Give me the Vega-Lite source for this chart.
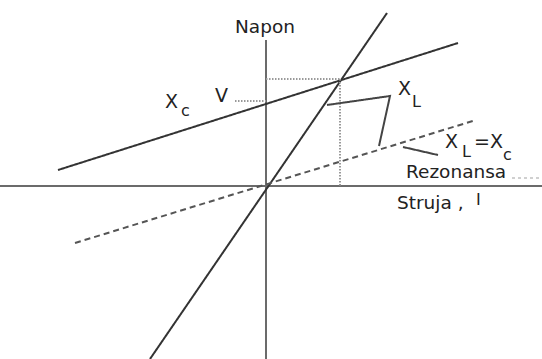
{
  "$schema": "https://vega.github.io/schema/vega-lite/v6.json",
  "width": 542,
  "height": 359,
  "padding": 0,
  "autosize": {"type": "none"},
  "background": "white",
  "config": {"view": {"stroke": null}},
  "datasets": {
    "lines": [
      {"seg": "axisX", "style": "axis", "ord": 1, "x": -266, "y": 0},
      {"seg": "axisX", "style": "axis", "ord": 2, "x": 276, "y": 0},
      {"seg": "axisY", "style": "axis", "ord": 1, "x": 0, "y": 146},
      {"seg": "axisY", "style": "axis", "ord": 2, "x": 0, "y": -173},
      {"seg": "XL", "style": "solid", "ord": 1, "x": -116, "y": -173},
      {"seg": "XL", "style": "solid", "ord": 2, "x": 121, "y": 173},
      {"seg": "XC", "style": "solid", "ord": 1, "x": -208, "y": 16},
      {"seg": "XC", "style": "solid", "ord": 2, "x": 192, "y": 143},
      {"seg": "res", "style": "dashed", "ord": 1, "x": -191, "y": -57},
      {"seg": "res", "style": "dashed", "ord": 2, "x": 210, "y": 66},
      {"seg": "dotH", "style": "dotted", "ord": 1, "x": 0, "y": 107},
      {"seg": "dotH", "style": "dotted", "ord": 2, "x": 74, "y": 107},
      {"seg": "dotV", "style": "dotted", "ord": 1, "x": 74, "y": 107},
      {"seg": "dotV", "style": "dotted", "ord": 2, "x": 74, "y": 0},
      {"seg": "dotVlevel", "style": "dotted", "ord": 1, "x": -31, "y": 85},
      {"seg": "dotVlevel", "style": "dotted", "ord": 2, "x": 0, "y": 85},
      {"seg": "ptrXL", "style": "pointer", "ord": 1, "x": 61, "y": 81},
      {"seg": "ptrXL", "style": "pointer", "ord": 2, "x": 124, "y": 90},
      {"seg": "ptrXL", "style": "pointer", "ord": 3, "x": 113, "y": 40},
      {"seg": "ptrRes", "style": "pointer", "ord": 1, "x": 137, "y": 39},
      {"seg": "ptrRes", "style": "pointer", "ord": 2, "x": 172, "y": 31},
      {"seg": "faint", "style": "faint", "ord": 1, "x": 246, "y": 8},
      {"seg": "faint", "style": "faint", "ord": 2, "x": 274, "y": 8}
    ],
    "labels": [
      {"role": "word", "align": "center", "t": "Napon", "x": -1, "y": 153},
      {"role": "word", "align": "left", "t": "Rezonansa", "x": 140, "y": 8},
      {"role": "word", "align": "left", "t": "Struja ,", "x": 131, "y": -23},
      {"role": "sym", "align": "left", "t": "V", "x": -51, "y": 84},
      {"role": "sym", "align": "left", "t": "X", "x": -101, "y": 78},
      {"role": "sym", "align": "left", "t": "X", "x": 132, "y": 91},
      {"role": "sym", "align": "left", "t": "X", "x": 179, "y": 38},
      {"role": "sym", "align": "left", "t": "=", "x": 208, "y": 38},
      {"role": "sym", "align": "left", "t": "X", "x": 224, "y": 38},
      {"role": "sub", "align": "left", "t": "c", "x": -85, "y": 70},
      {"role": "sub", "align": "left", "t": "L", "x": 146, "y": 79},
      {"role": "sub", "align": "left", "t": "L", "x": 196, "y": 29},
      {"role": "sub", "align": "left", "t": "c", "x": 237, "y": 26},
      {"role": "sub", "align": "left", "t": "I", "x": 210, "y": -19}
    ]
  },
  "layer": [
    {
      "data": {"name": "lines"},
      "mark": {"type": "line", "strokeCap": "butt"},
      "encoding": {
        "x": {"field": "x", "type": "quantitative", "scale": {"domain": [-266, 276], "nice": false, "zero": false}, "axis": null},
        "y": {"field": "y", "type": "quantitative", "scale": {"domain": [-173, 186], "nice": false, "zero": false}, "axis": null},
        "detail": {"field": "seg", "type": "nominal"},
        "order": {"field": "ord", "type": "quantitative"},
        "color": {"field": "style", "type": "nominal", "legend": null,
          "scale": {"domain": ["axis", "solid", "dashed", "dotted", "pointer", "faint"],
                    "range": ["#6b6b6b", "#333333", "#555555", "#999999", "#444444", "#d0d0d0"]}},
        "strokeWidth": {"field": "style", "type": "nominal", "legend": null,
          "scale": {"domain": ["axis", "solid", "dashed", "dotted", "pointer", "faint"],
                    "range": [2, 2, 2, 1.2, 2, 1.2]}},
        "strokeDash": {"field": "style", "type": "nominal", "legend": null,
          "scale": {"domain": ["axis", "solid", "dashed", "dotted", "pointer", "faint"],
                    "range": [[1, 0], [1, 0], [6, 4], [1.5, 1.5], [1, 0], [3, 3]]}}
      }
    },
    {
      "data": {"name": "labels"},
      "transform": [{"filter": "datum.role === 'word' && datum.align === 'left'"}],
      "mark": {"type": "text", "font": "DejaVu Sans", "fontSize": 18.5, "align": "left", "baseline": "alphabetic", "color": "#222222"},
      "encoding": {
        "x": {"field": "x", "type": "quantitative"},
        "y": {"field": "y", "type": "quantitative"},
        "text": {"field": "t", "type": "nominal"}
      }
    },
    {
      "data": {"name": "labels"},
      "transform": [{"filter": "datum.role === 'word' && datum.align === 'center'"}],
      "mark": {"type": "text", "font": "DejaVu Sans", "fontSize": 18.5, "align": "center", "baseline": "alphabetic", "color": "#222222"},
      "encoding": {
        "x": {"field": "x", "type": "quantitative"},
        "y": {"field": "y", "type": "quantitative"},
        "text": {"field": "t", "type": "nominal"}
      }
    },
    {
      "data": {"name": "labels"},
      "transform": [{"filter": "datum.role === 'sym'"}],
      "mark": {"type": "text", "font": "DejaVu Sans", "fontSize": 19, "align": "left", "baseline": "alphabetic", "color": "#222222"},
      "encoding": {
        "x": {"field": "x", "type": "quantitative"},
        "y": {"field": "y", "type": "quantitative"},
        "text": {"field": "t", "type": "nominal"}
      }
    },
    {
      "data": {"name": "labels"},
      "transform": [{"filter": "datum.role === 'sub'"}],
      "mark": {"type": "text", "font": "DejaVu Sans", "fontSize": 16, "align": "left", "baseline": "alphabetic", "color": "#222222"},
      "encoding": {
        "x": {"field": "x", "type": "quantitative"},
        "y": {"field": "y", "type": "quantitative"},
        "text": {"field": "t", "type": "nominal"}
      }
    }
  ]
}
